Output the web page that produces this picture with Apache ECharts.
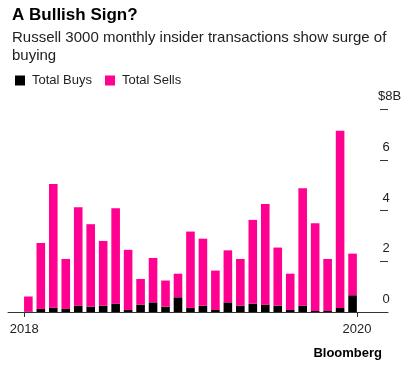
<!DOCTYPE html>
<html>
<head>
<meta charset="utf-8">
<script src="https://cdn.jsdelivr.net/npm/echarts@6/dist/echarts.min.js"></script>
<style>
html,body{margin:0;padding:0;background:#fff;}
#c{width:417px;height:365px;}
</style>
</head>
<body>
<div id="c"></div>
<script>
// Monthly insider transactions, $B (27 bars, left to right)
var months = ['m01','m02','m03','m04','m05','m06','m07','m08','m09','m10','m11','m12','m13','m14','m15','m16','m17','m18','m19','m20','m21','m22','m23','m24','m25','m26','m27'];
var buys  = [0.02,0.12,0.17,0.12,0.25,0.21,0.25,0.33,0.08,0.29,0.38,0.21,0.58,0.16,0.25,0.08,0.38,0.25,0.33,0.29,0.25,0.08,0.25,0.04,0.04,0.16,0.66];
var sells = [0.59,2.60,4.87,1.97,3.88,3.25,2.55,3.76,2.37,1.01,1.75,1.03,0.93,3.01,2.64,1.55,2.05,1.84,3.30,3.97,2.29,1.43,4.63,3.46,2.05,6.98,1.64];
var xTickPositions = [-0.32, 26.36];
var xTickLabels = ['2018', '2020'];
var yTicks = [0, 2, 4, 6, 8];

var FONT = '"Liberation Sans", Arial, Helvetica, sans-serif';
var PINK = '#ff0090';

var chart = echarts.init(document.getElementById('c'), null, {renderer:'canvas'});
chart.setOption({
  animation: false,
  backgroundColor: '#fff',
  title: [
    {
      text: 'A Bullish Sign?',
      left: 7, top: 2,
      textStyle: {fontFamily: FONT, fontSize: 17, fontWeight: 'bold', color: '#000'},
      subtext: 'Russell 3000 monthly insider transactions show surge of\nbuying',
      subtextStyle: {fontFamily: FONT, fontSize: 15, color: '#222', lineHeight: 18},
      itemGap: 5
    },
    {
      text: 'Bloomberg',
      right: 30, top: 342,
      textStyle: {fontFamily: FONT, fontSize: 13, fontWeight: 'bold', color: '#000'}
    }
  ],
  legend: {
    left: 10, top: 69,
    itemWidth: 10, itemHeight: 10, itemGap: 13,
    icon: 'rect',
    textStyle: {fontFamily: FONT, fontSize: 13, color: '#222', padding: [0,0,0,2]},
    data: ['Total Buys', 'Total Sells']
  },
  grid: [
    {left: 8, right: 29, top: 109, bottom: 53, containLabel: false},
    {left: 22.115, right: 58.2, top: 109, bottom: 53, containLabel: false}
  ],
  xAxis: [
    {
      gridIndex: 0,
      type: 'value',
      min: -1.62, max: 28.85,
      splitLine: {show: false},
      axisLine: {show: true, onZero: false, lineStyle: {color: '#333', width: 1}},
      axisTick: {show: true, customValues: xTickPositions, length: 5, lineStyle: {color: '#333'}},
      axisLabel: {
        customValues: xTickPositions,
        margin: 11,
        fontFamily: FONT, fontSize: 13, color: '#222',
        formatter: function(v){
          for (var i = 0; i < xTickPositions.length; i++) {
            if (Math.abs(v - xTickPositions[i]) < 1e-6) return xTickLabels[i];
          }
          return '';
        }
      }
    },
    {
      gridIndex: 1,
      type: 'category',
      data: months,
      boundaryGap: true,
      show: false
    }
  ],
  yAxis: [
    {
      gridIndex: 0,
      type: 'value',
      position: 'right',
      min: yTicks[0], max: yTicks[yTicks.length-1], interval: 2,
      splitLine: {show: false},
      axisLine: {show: false, onZero: false},
      axisTick: {show: true, inside: true, length: 8, lineStyle: {color: '#333'}},
      axisLabel: {
        inside: true, margin: 2, align: 'center', verticalAlign: 'bottom',
        padding: [0,0,6,0],
        fontFamily: FONT, fontSize: 13, color: '#222',
        formatter: function(v){ return v === 8 ? '{top|$8B}' : String(v); },
        rich: {top: {fontFamily: FONT, fontSize: 13, color: '#222', padding: [0,0,0,7]}}
      }
    },
    {
      gridIndex: 1,
      type: 'value',
      min: yTicks[0], max: yTicks[yTicks.length-1],
      show: false
    }
  ],
  series: [
    {
      name: 'Total Buys', type: 'bar', stack: 'total', barWidth: 8.6,
      xAxisIndex: 1, yAxisIndex: 1,
      itemStyle: {color: '#000'},
      data: buys
    },
    {
      name: 'Total Sells', type: 'bar', stack: 'total', barWidth: 8.6,
      xAxisIndex: 1, yAxisIndex: 1,
      itemStyle: {color: PINK},
      data: sells
    }
  ]
});
</script>
</body>
</html>
